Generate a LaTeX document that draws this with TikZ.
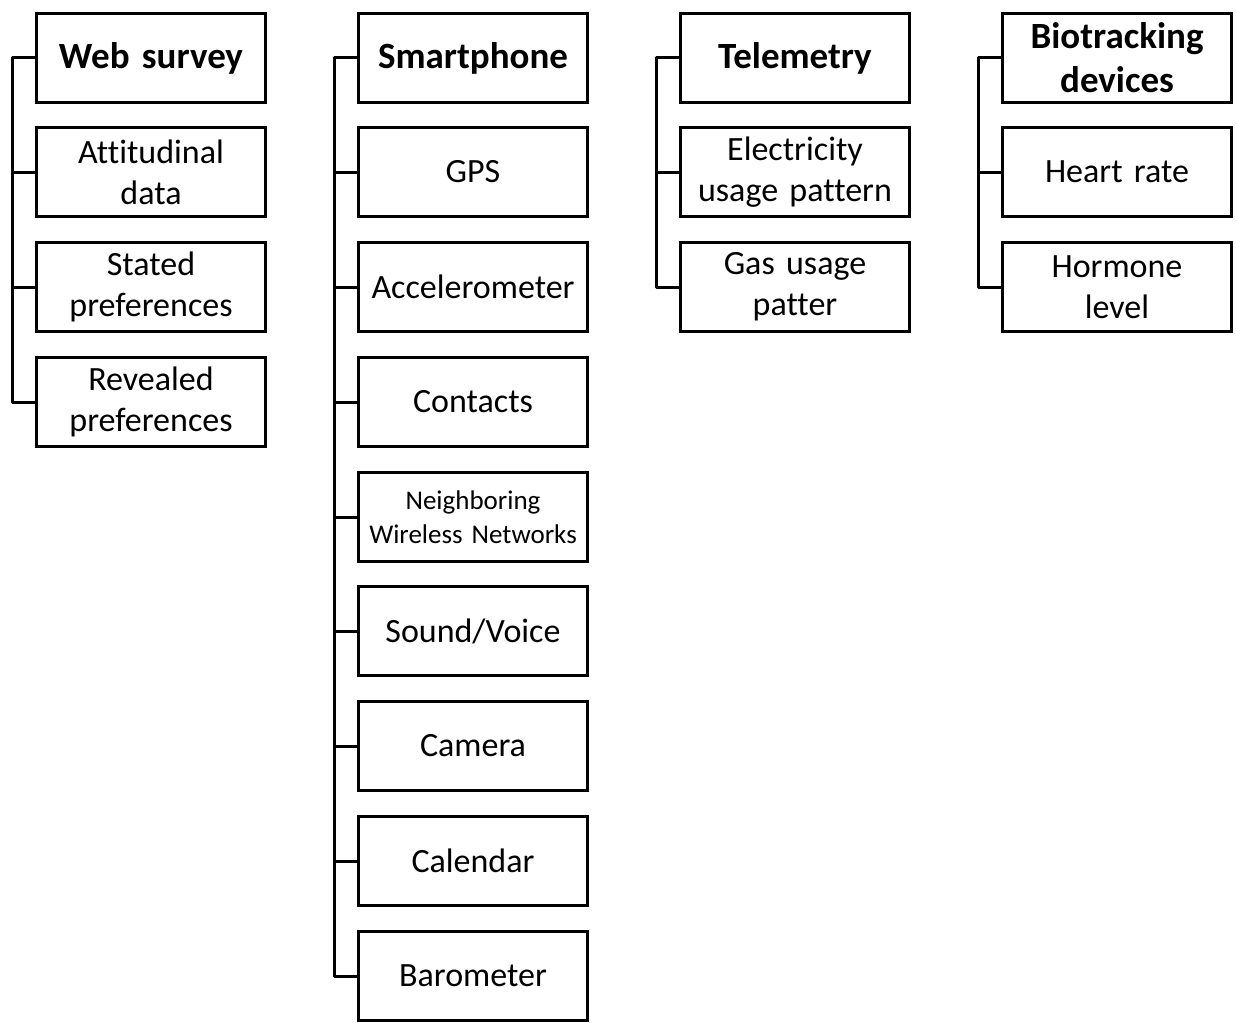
\documentclass[tikz,border=0pt]{standalone}
\usepackage{fontspec}
\setmainfont[Ligatures=NoCommon, WordSpace=0.85]{Carlito}
\begin{document}
\begin{tikzpicture}[x=1pt,y=-1pt,
  box/.style={draw=black, line width=3pt, minimum width=229pt, minimum height=89pt, inner sep=2pt, align=center, font=\fontsize{34}{41}\selectfont, text width=225pt},
  head/.style={box, font=\fontsize{37}{44}\selectfont\bfseries},
  small/.style={box, font=\fontsize{27}{34}\selectfont},
  conn/.style={draw=black, line width=3pt, line join=round}]
\useasboundingbox (0,0) rectangle (1236,1022);
% column 1
\node[head] (w0) at (151,58) {Web survey};
\node[box]  (w1) at (151,172) {Attitudinal\\data};
\node[box]  (w2) at (151,287) {Stated\\preferences};
\node[box]  (w3) at (151,402) {Revealed\\preferences};
% column 2
\node[head] (s0) at (473,58) {Smartphone};
\node[box]  (s1) at (473,172) {GPS};
\node[box]  (s2) at (473,287) {Accelerometer};
\node[box]  (s3) at (473,402) {Contacts};
\node[small] (s4) at (473,517) {Neighboring\\Wireless Networks};
\node[box]  (s5) at (473,631) {Sound/Voice};
\node[box]  (s6) at (473,746) {Camera};
\node[box]  (s7) at (473,861) {Calendar};
\node[box]  (s8) at (473,976) {Barometer};
% column 3
\node[head] (t0) at (795,58) {Telemetry};
\node[box]  (t1) at (795,172) {Electricity\\usage pattern};
\node[box]  (t2) at (795,287) {Gas usage\\patter};
% column 4
\node[head] (b0) at (1117,58) {Biotracking\\devices};
\node[box]  (b1) at (1117,172) {Heart rate};
\node[box]  (b2) at (1117,287) {Hormone\\level};
% connectors
\draw[conn] (w0.west) -- ++(-23,0) |- (w3.west);
\foreach \n in {w1,w2} \draw[conn] (\n.west) -- ++(-23,0);
\draw[conn] (s0.west) -- ++(-23,0) |- (s8.west);
\foreach \n in {s1,s2,s3,s4,s5,s6,s7} \draw[conn] (\n.west) -- ++(-23,0);
\draw[conn] (t0.west) -- ++(-23,0) |- (t2.west);
\draw[conn] (t1.west) -- ++(-23,0);
\draw[conn] (b0.west) -- ++(-23,0) |- (b2.west);
\draw[conn] (b1.west) -- ++(-23,0);
\end{tikzpicture}
\end{document}
